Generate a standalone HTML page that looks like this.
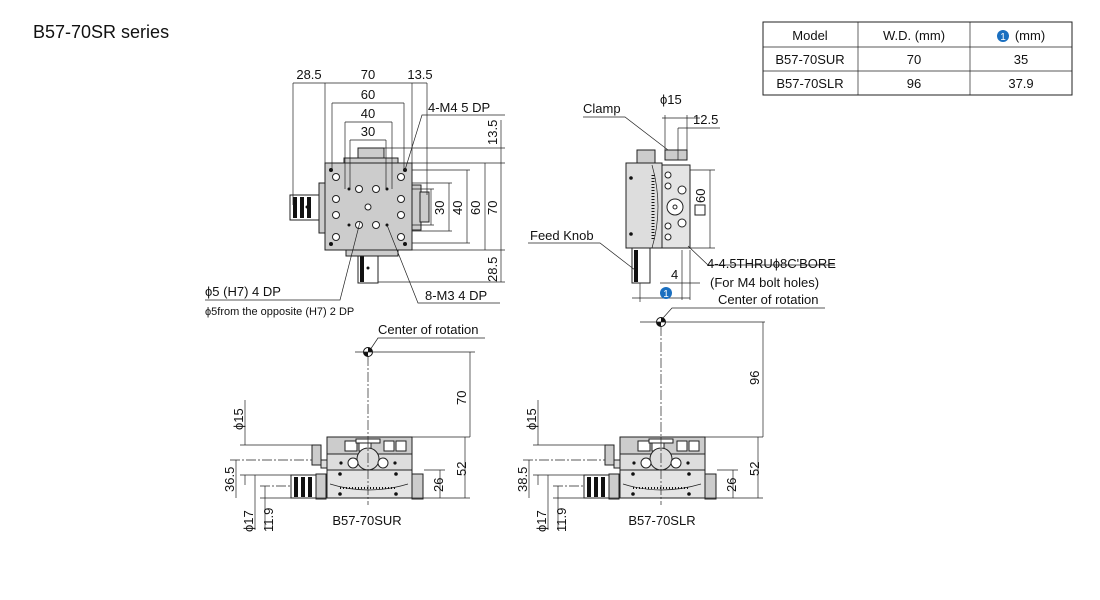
<!DOCTYPE html>
<html><head><meta charset="utf-8"><style>
body{margin:0;background:#fff;width:1100px;height:600px;overflow:hidden}
svg{display:block}
text{font-family:"Liberation Sans",sans-serif;font-size:13px;fill:#111}
.s{font-size:11px}
.d{stroke:#222;stroke-width:0.7;fill:none}
.c{stroke:#222;stroke-width:0.7;fill:none;stroke-dasharray:10 2 2 2}
.b{stroke:#222;stroke-width:1;}
</style></head><body>
<svg width="1100" height="600" viewBox="0 0 1100 600">
<defs>
<g id="front">
  <rect x="291" y="475" width="36" height="23" fill="#fff" class="b"/>
  <rect x="294" y="477" width="4" height="20" fill="#111"/><rect x="301" y="477" width="4" height="20" fill="#111"/><rect x="308" y="477" width="4" height="20" fill="#111"/>
  <rect x="316" y="474" width="10" height="25" fill="#ccc" class="b"/>
  <rect x="412" y="474" width="11" height="25" fill="#ccc" class="b"/>
  <rect x="312" y="445" width="9" height="20" fill="#ccc" class="b"/>
  <rect x="321" y="460" width="6" height="8" fill="#ddd" class="b"/>
  <rect x="327" y="437" width="85" height="33" fill="#ddd" class="b"/>
  <rect x="327" y="437" width="85" height="17" fill="#ccc" class="b"/>
  <rect x="345" y="441" width="12" height="10" fill="#fff" class="b"/><rect x="359" y="441" width="12" height="10" fill="#fff" class="b"/>
  <rect x="384" y="441" width="10" height="10" fill="#fff" class="b"/><rect x="396" y="441" width="10" height="10" fill="#fff" class="b"/>
  <rect x="356" y="439" width="24" height="4" fill="#fff" class="b"/>
  <circle cx="368" cy="459" r="11" fill="#ddd" class="b"/>
  <circle cx="353" cy="463" r="5" fill="#fff" class="b"/><circle cx="383" cy="463" r="5" fill="#fff" class="b"/>
  <circle cx="341" cy="463" r="1.6" fill="#111"/><circle cx="395" cy="463" r="1.6" fill="#111"/>
  <rect x="327" y="470" width="85" height="28" fill="#e4e4e4" class="b"/>
  <path d="M330 484 Q368 496 408 484" class="d"/>
  <path d="M340 488 L396 488" stroke="#111" stroke-width="2" stroke-dasharray="1 2"/>
  <circle cx="340" cy="474" r="1.8" fill="#111"/><circle cx="396" cy="474" r="1.8" fill="#111"/>
  <circle cx="340" cy="494" r="1.8" fill="#111"/><circle cx="396" cy="494" r="1.8" fill="#111"/>
  <line x1="260" y1="498" x2="470" y2="498" class="d"/>
  <line x1="412" y1="437" x2="470" y2="437" class="d"/>
  <line x1="230" y1="460" x2="312" y2="460" class="c"/>
  <line x1="240" y1="445" x2="312" y2="445" class="d"/><line x1="240" y1="475" x2="312" y2="475" class="d"/>
  <line x1="245" y1="445" x2="245" y2="400" class="d"/><line x1="245" y1="475" x2="245" y2="485" class="d"/>
  <line x1="236" y1="460" x2="236" y2="498" class="d"/>
  <line x1="255" y1="475" x2="255" y2="530" class="d"/><line x1="265" y1="486" x2="265" y2="530" class="d"/>
  <line x1="260" y1="486" x2="291" y2="486" class="c"/>
  <line x1="424" y1="470" x2="445" y2="470" class="d"/><line x1="440" y1="470" x2="440" y2="498" class="d"/>
  <line x1="465" y1="437" x2="465" y2="498" class="d"/>
  <line x1="368" y1="437" x2="368" y2="505" class="c"/>
  <text x="243" y="430" transform="rotate(-90 243 430)">ϕ15</text>
  <text x="253" y="532" transform="rotate(-90 253 532)">ϕ17</text>
  <text x="273" y="532" transform="rotate(-90 273 532)">11.9</text>
  <text x="443" y="492" transform="rotate(-90 443 492)">26</text>
  <text x="466" y="476" transform="rotate(-90 466 476)">52</text>
</g>
</defs>

<text x="33" y="38" style="font-size:18px">B57-70SR series</text>

<g>
<rect x="763" y="22" width="309" height="73" fill="#fff" stroke="#222"/>
<line x1="763" y1="47" x2="1072" y2="47" class="d"/><line x1="763" y1="71" x2="1072" y2="71" class="d"/>
<line x1="858" y1="22" x2="858" y2="95" class="d"/><line x1="970" y1="22" x2="970" y2="95" class="d"/>
<text x="810" y="40" text-anchor="middle">Model</text><text x="914" y="40" text-anchor="middle">W.D. (mm)</text>
<circle cx="1003" cy="36" r="6" fill="#1a6fc0"/><text x="1003" y="40" text-anchor="middle" style="fill:#fff;font-size:10px">1</text>
<text x="1030" y="40" text-anchor="middle">(mm)</text>
<text x="810" y="64" text-anchor="middle">B57-70SUR</text><text x="914" y="64" text-anchor="middle">70</text><text x="1021" y="64" text-anchor="middle">35</text>
<text x="810" y="88" text-anchor="middle">B57-70SLR</text><text x="914" y="88" text-anchor="middle">96</text><text x="1021" y="88" text-anchor="middle">37.9</text>
</g>

<g>
<rect x="290" y="195" width="36" height="25" fill="#fff" class="b"/>
<rect x="293" y="197" width="4" height="21" fill="#111"/><rect x="300" y="197" width="4" height="21" fill="#111"/><rect x="307" y="197" width="4" height="21" fill="#111"/>
<rect x="319" y="183" width="8" height="50" fill="#ccc" class="b"/>
<rect x="411" y="185" width="10" height="45" fill="#ccc" class="b"/><rect x="420" y="192" width="9" height="30" fill="#ccc" class="b"/>
<rect x="358" y="148" width="26" height="15" fill="#ccc" class="b"/>
<rect x="344" y="158" width="54" height="7" fill="#ccc" class="b"/>
<rect x="358" y="250" width="20" height="33" fill="#fff" class="b"/>
<rect x="360" y="252" width="4" height="30" fill="#111"/>
<rect x="346" y="248" width="52" height="8" fill="#ccc" class="b"/>
<rect x="325" y="163" width="87" height="87" fill="#ccc" class="b"/>
<g fill="#fff" stroke="#222" stroke-width="1">
<circle cx="336" cy="177" r="3.5"/><circle cx="336" cy="199" r="3.5"/><circle cx="336" cy="215" r="3.5"/><circle cx="336" cy="237" r="3.5"/>
<circle cx="401" cy="177" r="3.5"/><circle cx="401" cy="199" r="3.5"/><circle cx="401" cy="215" r="3.5"/><circle cx="401" cy="237" r="3.5"/>
<circle cx="359" cy="189" r="3.5"/><circle cx="376" cy="189" r="3.5"/><circle cx="359" cy="225" r="3.5"/><circle cx="376" cy="225" r="3.5"/>
<circle cx="368" cy="207" r="3"/>
</g>
<g fill="#111"><circle cx="331" cy="170" r="2"/><circle cx="405" cy="170" r="2"/><circle cx="331" cy="244" r="2"/><circle cx="405" cy="244" r="2"/>
<circle cx="349" cy="189" r="1.5"/><circle cx="387" cy="189" r="1.5"/><circle cx="349" cy="225" r="1.5"/><circle cx="387" cy="225" r="1.5"/>
<circle cx="307" cy="207" r="1.5"/><circle cx="368" cy="268" r="1.5"/></g>
<line x1="293" y1="83" x2="427" y2="83" class="d"/>
<line x1="293" y1="83" x2="293" y2="205" class="d"/><line x1="325" y1="83" x2="325" y2="165" class="d"/><line x1="412" y1="83" x2="412" y2="165" class="d"/><line x1="427" y1="83" x2="427" y2="195" class="d"/>
<line x1="332" y1="103" x2="404" y2="103" class="d"/><line x1="332" y1="103" x2="332" y2="170" class="d"/><line x1="404" y1="103" x2="404" y2="170" class="d"/>
<line x1="345" y1="122" x2="392" y2="122" class="d"/><line x1="345" y1="122" x2="345" y2="189" class="d"/><line x1="392" y1="122" x2="392" y2="189" class="d"/>
<line x1="350" y1="140" x2="386" y2="140" class="d"/><line x1="350" y1="140" x2="350" y2="189" class="d"/><line x1="386" y1="140" x2="386" y2="189" class="d"/>
<text x="309" y="79" text-anchor="middle">28.5</text><text x="368" y="79" text-anchor="middle">70</text><text x="420" y="79" text-anchor="middle">13.5</text>
<text x="368" y="99" text-anchor="middle">60</text><text x="368" y="118" text-anchor="middle">40</text><text x="368" y="136" text-anchor="middle">30</text>
<line x1="384" y1="148" x2="505" y2="148" class="d"/><line x1="412" y1="163" x2="505" y2="163" class="d"/><line x1="412" y1="250" x2="505" y2="250" class="d"/><line x1="378" y1="282" x2="505" y2="282" class="d"/>
<line x1="501" y1="120" x2="501" y2="282" class="d"/><line x1="485" y1="163" x2="485" y2="250" class="d"/>
<line x1="412" y1="170" x2="470" y2="170" class="d"/><line x1="412" y1="243" x2="470" y2="243" class="d"/><line x1="467" y1="170" x2="467" y2="243" class="d"/>
<line x1="412" y1="183" x2="452" y2="183" class="d"/><line x1="412" y1="231" x2="452" y2="231" class="d"/><line x1="449" y1="183" x2="449" y2="231" class="d"/>
<line x1="412" y1="189" x2="434" y2="189" class="d"/><line x1="412" y1="225" x2="434" y2="225" class="d"/><line x1="431" y1="189" x2="431" y2="225" class="d"/>
<text x="497" y="145" transform="rotate(-90 497 145)">13.5</text>
<text x="497" y="215" transform="rotate(-90 497 215)">70</text>
<text x="480" y="215" transform="rotate(-90 480 215)">60</text>
<text x="462" y="215" transform="rotate(-90 462 215)">40</text>
<text x="444" y="215" transform="rotate(-90 444 215)">30</text>
<text x="497" y="282" transform="rotate(-90 497 282)">28.5</text>
<polyline points="405,170 422,115 505,115" class="d"/>
<text x="428" y="112">4-M4 5 DP</text>
<polyline points="360,222 340,300 205,300" class="d"/>
<text x="205" y="296">ϕ5 (H7)  4 DP</text>
<text x="205" y="315" class="s">ϕ5from the opposite (H7) 2 DP</text>
<polyline points="387,225 418,303 500,303" class="d"/>
<text x="425" y="300">8-M3 4 DP</text>
</g>

<text x="378" y="334">Center of rotation</text>
<polyline points="370,350 378,338 485,338" class="d"/>
<circle cx="368" cy="352" r="4.5" fill="#fff" stroke="#111"/><path d="M368 347.5 A4.5 4.5 0 0 1 372.5 352 L368 352Z M368 356.5 A4.5 4.5 0 0 1 363.5 352 L368 352Z" fill="#111"/>
<line x1="355" y1="352" x2="475" y2="352" class="d"/>
<line x1="368" y1="356" x2="368" y2="437" class="c"/>
<line x1="470" y1="352" x2="470" y2="437" class="d"/>
<text x="466" y="405" transform="rotate(-90 466 405)">70</text>

<use href="#front"/>
<text x="234" y="492" transform="rotate(-90 234 492)">36.5</text>
<text x="367" y="525" text-anchor="middle">B57-70SUR</text>

<g transform="translate(293,0)"><use href="#front"/></g>
<text x="527" y="492" transform="rotate(-90 527 492)">38.5</text>
<text x="662" y="525" text-anchor="middle">B57-70SLR</text>

<circle cx="661" cy="322" r="4.5" fill="#fff" stroke="#111"/><path d="M661 317.5 A4.5 4.5 0 0 1 665.5 322 L661 322Z M661 326.5 A4.5 4.5 0 0 1 656.5 322 L661 322Z" fill="#111"/>
<line x1="640" y1="322" x2="765" y2="322" class="d"/>
<line x1="661" y1="326" x2="661" y2="437" class="c"/>
<line x1="763" y1="322" x2="763" y2="437" class="d"/>
<text x="759" y="385" transform="rotate(-90 759 385)">96</text>
<polyline points="663,318 672,308 825,308" class="d"/>
<text x="718" y="304">Center of rotation</text>

<g>
<rect x="637" y="150" width="18" height="13" fill="#ccc" class="b"/>
<rect x="665" y="150" width="22" height="10" fill="#ccc" class="b"/>
<rect x="626" y="163" width="36" height="85" fill="#ddd" class="b"/>
<path d="M652 165 Q664 207 652 248" class="d"/>
<line x1="653" y1="175" x2="653" y2="240" stroke="#111" stroke-width="3" stroke-dasharray="1 2"/>
<circle cx="631" cy="178" r="1.8" fill="#111"/><circle cx="631" cy="234" r="1.8" fill="#111"/>
<rect x="662" y="165" width="28" height="83" fill="#e4e4e4" class="b"/>
<g fill="#fff" stroke="#222"><circle cx="668" cy="175" r="3"/><circle cx="668" cy="186" r="3"/><circle cx="668" cy="226" r="3"/><circle cx="668" cy="237" r="3"/>
<circle cx="682" cy="190" r="4"/><circle cx="682" cy="223" r="4"/><circle cx="675" cy="207" r="8"/><circle cx="675" cy="207" r="2"/></g>
<rect x="632" y="248" width="18" height="35" fill="#fff" class="b"/>
<rect x="634" y="250" width="4" height="32" fill="#111"/>
<line x1="690" y1="170" x2="715" y2="170" class="d"/><line x1="690" y1="248" x2="715" y2="248" class="d"/>
<line x1="710" y1="170" x2="710" y2="248" class="d"/>
<rect x="695" y="205" width="10" height="10" fill="#fff" stroke="#222"/>
<text x="705" y="203" transform="rotate(-90 705 203)">60</text>
<line x1="662" y1="118" x2="700" y2="118" class="d"/><line x1="678" y1="128" x2="720" y2="128" class="d"/>
<line x1="665" y1="115" x2="665" y2="150" class="d"/><line x1="687" y1="115" x2="687" y2="150" class="d"/><line x1="678" y1="128" x2="678" y2="160" class="d"/>
<text x="660" y="104">ϕ15</text><text x="693" y="124">12.5</text>
<polyline points="583,117 625,117 668,150" class="d"/><text x="583" y="113">Clamp</text>
<polyline points="528,243 600,243 635,270" class="d"/><text x="530" y="240">Feed Knob</text>
<polyline points="688,246 708,265 835,265" class="d"/><text x="707" y="268">4-4.5THRUϕ8C'BORE</text>
<text x="710" y="287">(For M4 bolt holes)</text>
<line x1="682" y1="250" x2="682" y2="300" class="d"/><line x1="690" y1="250" x2="690" y2="300" class="d"/>
<line x1="660" y1="283" x2="700" y2="283" class="d"/>
<text x="671" y="279">4</text>
<line x1="632" y1="298" x2="690" y2="298" class="d"/><line x1="640" y1="283" x2="640" y2="302" class="d"/>
<circle cx="666" cy="293" r="6" fill="#1a6fc0"/><text x="666" y="297" text-anchor="middle" style="fill:#fff;font-size:10px">1</text>
</g>
</svg>
</body></html>
